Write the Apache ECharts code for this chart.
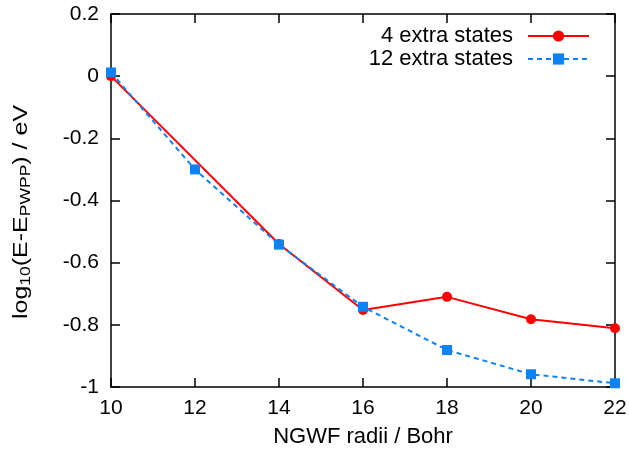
<!DOCTYPE html>
<html>
<head>
<meta charset="utf-8">
<script src="https://cdn.jsdelivr.net/npm/echarts@6/dist/echarts.min.js"></script>
<style>
html,body{margin:0;padding:0;background:#fff;}
#chart{width:629px;height:450px;}
</style>
</head>
<body>
<div id="chart"></div>
<script>
const radii = [10, 12, 14, 16, 18, 20, 22];
const extra4 = [0.0, null, -0.54, -0.752, -0.71, -0.782, -0.811];
const extra12 = [0.012, -0.30, -0.542, -0.742, -0.881, -0.959, -0.988];
const seriesNames = ['4 extra states', '12 extra states'];
const xTicks = { min: 10, max: 22, step: 2 };
const yTicks = { min: -1, max: 0.2, step: 0.2 };
const xTitle = 'NGWF radii / Bohr';
const yTitle = 'log{sub|10}(E-E{sub|PWPP}) / eV';

function pairs(xs, ys) {
  const out = [];
  xs.forEach((x, i) => { if (ys[i] !== null) out.push([x, ys[i]]); });
  return out;
}

const FONT = 'Liberation Sans, Arial, sans-serif';
const FS = 21;
const FL = 22;
const axisLine = { show: true, onZero: false, lineStyle: { color: '#000', width: 1.5 } };
const axisTick = { show: true, inside: true, length: 9, lineStyle: { color: '#000', width: 1.5 } };
const fmtY = v => String(parseFloat(v.toFixed(1)));

const chart = echarts.init(document.getElementById('chart'), null, { renderer: 'canvas' });
chart.setOption({
  animation: false,
  backgroundColor: '#fff',
  textStyle: { fontFamily: FONT },
  grid: { left: 111, right: 14, top: 14, bottom: 63, containLabel: false, outerBoundsMode: 'none' },
  legend: [
    {
      data: [seriesNames[0]], right: 39, top: 25, orient: 'vertical', align: 'right', padding: 0,
      itemWidth: 61, itemHeight: 14, itemGap: 0,
      textStyle: { fontSize: FL, color: '#000', fontFamily: FONT, padding: [0, 10, 0, 0] }
    },
    {
      data: [seriesNames[1]], right: 39, top: 48, orient: 'vertical', align: 'right', padding: 0,
      itemWidth: 61, itemHeight: 14, itemGap: 0,
      textStyle: { fontSize: FL, color: '#000', fontFamily: FONT, padding: [0, 10, 0, 0] }
    }
  ],
  graphic: [
    {
      type: 'text', x: 21, y: 212, rotation: Math.PI / 2, scaleX: 1.25, scaleY: 1,
      style: {
        text: yTitle, align: 'center', verticalAlign: 'middle',
        fontSize: 20, fontFamily: FONT, fill: '#000',
        rich: {
          sub: { fontSize: 14, fontFamily: FONT, fill: '#000', lineHeight: 14, padding: [10, 0, 0, 0] }
        }
      }
    }
  ],
  xAxis: [
    {
      type: 'value', min: xTicks.min, max: xTicks.max, interval: xTicks.step, position: 'bottom',
      axisLine, axisTick, splitLine: { show: false },
      axisLabel: { fontSize: FS, color: '#000', margin: 11, fontFamily: FONT },
      name: xTitle, nameLocation: 'middle', nameGap: 39,
      nameTextStyle: { fontSize: FL, color: '#000', fontFamily: FONT }
    },
    {
      type: 'value', min: xTicks.min, max: xTicks.max, interval: xTicks.step, position: 'top',
      axisLine, axisTick, splitLine: { show: false }, axisLabel: { show: false }
    }
  ],
  yAxis: [
    {
      type: 'value', min: yTicks.min, max: yTicks.max, interval: yTicks.step, position: 'left',
      axisLine, axisTick, splitLine: { show: false },
      axisLabel: { fontSize: FS, color: '#000', margin: 12, formatter: fmtY, fontFamily: FONT }
    },
    {
      type: 'value', min: yTicks.min, max: yTicks.max, interval: yTicks.step, position: 'right',
      axisLine, axisTick, splitLine: { show: false }, axisLabel: { show: false }
    }
  ],
  series: [
    {
      name: seriesNames[0], type: 'line', xAxisIndex: 0, yAxisIndex: 0,
      data: pairs(radii, extra4), clip: false,
      symbol: 'circle', symbolSize: 10,
      itemStyle: { color: '#ff0000' },
      lineStyle: { color: '#ff0000', width: 2 }
    },
    {
      name: seriesNames[1], type: 'line', xAxisIndex: 0, yAxisIndex: 0,
      data: pairs(radii, extra12), clip: false,
      symbol: 'rect', symbolSize: 10,
      itemStyle: { color: '#0a84f5' },
      lineStyle: { color: '#0a84f5', width: 2, type: [5, 4] }
    }
  ]
});
</script>
</body>
</html>
